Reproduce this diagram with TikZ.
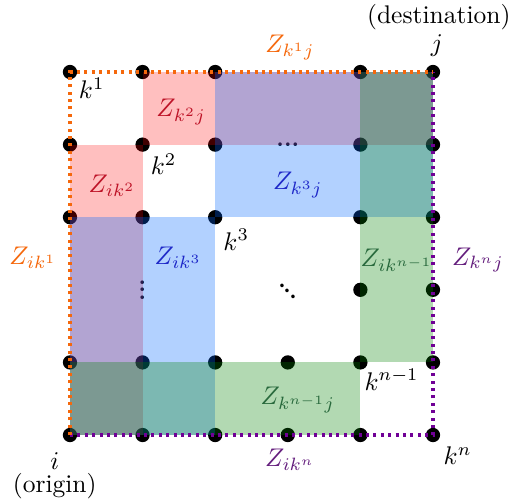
\documentclass[tikz,border=0pt]{standalone}
\usepackage{amsmath}
\definecolor{myorange}{RGB}{245,104,12}
\definecolor{mypurple}{RGB}{112,0,150}
\definecolor{zred}{RGB}{190,20,40}
\definecolor{zblue}{RGB}{30,40,200}
\definecolor{zgreen}{RGB}{40,105,60}
\definecolor{zpurple}{RGB}{100,30,125}
\definecolor{fblue}{RGB}{0,102,255}
\definecolor{fgreen}{RGB}{0,128,0}
\tikzset{
  gdot/.style={circle,fill=black,inner sep=0pt,minimum size=5.6pt},
  ell/.style={font=\small\bfseries,inner sep=0pt},
  redf/.style={fill=red,fill opacity=0.25},
  bluef/.style={fill=fblue,fill opacity=0.3},
  greenf/.style={fill=fgreen,fill opacity=0.3},
  oline/.style={draw=myorange,line width=1.2pt,dash pattern=on 1.2pt off 1.7pt},
  pline/.style={draw=mypurple,line width=1.2pt,dash pattern=on 1.2pt off 1.7pt},
  lab/.style={inner sep=0pt}
}
\begin{document}
\begin{tikzpicture}
\useasboundingbox (-0.964,-0.923) rectangle (6.061,5.992);
% corner coordinates
\coordinate (i) at (0,0);
\coordinate (j) at (5,5);
\coordinate (k1) at (0,5);
\coordinate (kn) at (5,0);
% grid dots
\foreach \c/\r in {0/5,1/5,2/5,4/5,5/5,
                   0/4,1/4,2/4,4/4,5/4,
                   0/3,1/3,2/3,4/3,5/3,
                   4/2,5/2,
                   0/1,1/1,2/1,3/1,4/1,5/1,
                   0/0,1/0,2/0,3/0,4/0,5/0}
  \node[gdot] (g\c\r) at (\c,\r) {};
% ellipses
\node[ell] (hd) at (3,4) {...};
\node[ell,rotate=90] (vd) at (1,2) {...};
\node[ell,rotate=-45] (dd) at (3,1.98) {...};
% fills
\fill[redf] (1,4) rectangle (5,5);
\fill[redf] (0,0) rectangle (1,4);
\fill[bluef] (2,3) rectangle (5,5);
\fill[bluef] (0,0) rectangle (2,3);
\fill[greenf] (4,1) rectangle (5,5);
\fill[greenf] (0,0) rectangle (4,1);
% dotted borders
\draw[pline] (i) -- (kn) -- (j);
\draw[oline] (i) -- (k1) -- (j);
% labels
\node[lab] (ldest) at (5.08,5.76) {(destination)};
\node[lab] (lj) at (5.055,5.37) {$j$};
\node[lab,text=myorange] (lZk1j) at (3.03,5.34) {$Z_{k^1 j}$};
\node[lab] (lk1) at (0.30,4.78) {$k^1$};
\node[lab,text=zred] (lZk2j) at (1.53,4.45) {$Z_{k^2 j}$};
\node[lab,text=zred] (lZik2) at (0.58,3.43) {$Z_{ik^2}$};
\node[lab] (lk2) at (1.29,3.73) {$k^2$};
\node[lab,text=zblue] (lZk3j) at (3.14,3.44) {$Z_{k^3 j}$};
\node[lab] (lk3) at (2.29,2.69) {$k^3$};
\node[lab,text=zblue] (lZik3) at (1.49,2.44) {$Z_{ik^3}$};
\node[lab,text=myorange] (lZik1) at (-0.51,2.44) {$Z_{ik^1}$};
\node[lab,text=zgreen] (lZikn1) at (4.50,2.41) {$Z_{ik^{n-1}}$};
\node[lab,text=zpurple] (lZknj) at (5.62,2.41) {$Z_{k^n j}$};
\node[lab] (lkn1) at (4.43,0.76) {$k^{n-1}$};
\node[lab,text=zgreen] (lZkn1j) at (3.14,0.48) {$Z_{k^{n-1} j}$};
\node[lab] (li) at (-0.21,-0.36) {$i$};
\node[lab] (lorigin) at (-0.21,-0.70) {(origin)};
\node[lab,text=zpurple] (lZikn) at (3.03,-0.34) {$Z_{ik^n}$};
\node[lab] (lkn) at (5.34,-0.29) {$k^n$};
\end{tikzpicture}
\end{document}
